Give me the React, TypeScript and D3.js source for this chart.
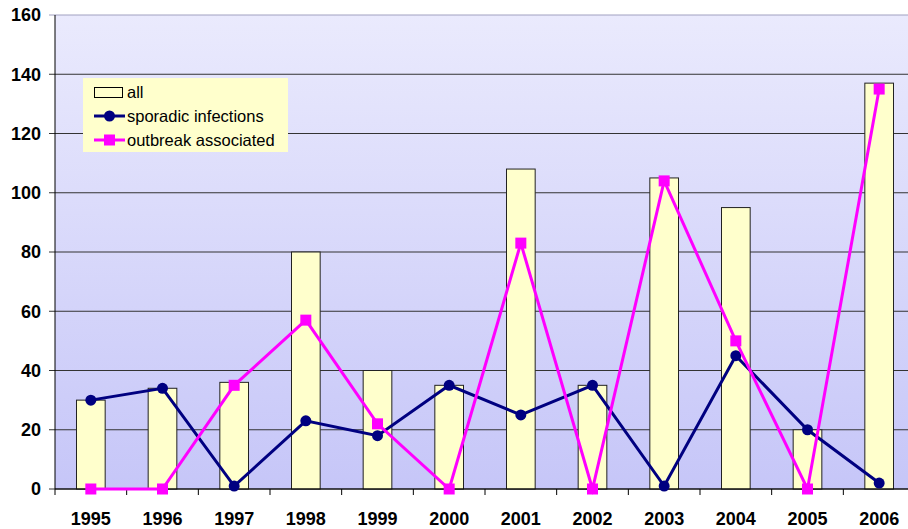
import * as React from 'react'
import * as d3 from 'd3'

const years = ['1995', '1996', '1997', '1998', '1999', '2000', '2001', '2002', '2003', '2004', '2005', '2006']
const allCases = [30, 34, 36, 80, 40, 35, 108, 35, 105, 95, 20, 137]
const sporadic = [30, 34, 1, 23, 18, 35, 25, 35, 1, 45, 20, 2]
const outbreak = [0, 0, 35, 57, 22, 0, 83, 0, 104, 50, 0, 135]
const yTicks = [0, 20, 40, 60, 80, 100, 120, 140, 160]

const W = 908
const H = 529
const m = { left: 55, right: -7, top: 15, bottom: 40 }

const App: React.FC = () => {
	const x = d3.scaleBand().domain(years).range([m.left, W - m.right]).padding(0)
	const y = d3.scaleLinear().domain([0, 160]).range([H - m.bottom, m.top])
	const bw = x.bandwidth() * 0.4
	const cx = (d: string) => x(d)! + x.bandwidth() / 2
	const line = d3.line<number>().x((_, i) => cx(years[i])).y(d => y(d))
	const font = '"Liberation Sans", Arial, sans-serif'

	return (
		<svg width={W} height={H} style={{ position: 'absolute', left: 0, top: 0 }} fontFamily={font}>
			<defs>
				<linearGradient id="bg" x1="0" y1="0" x2="0" y2="1">
					<stop offset="0" stopColor="#EAEAFD" />
					<stop offset="1" stopColor="#C6C6F8" />
				</linearGradient>
			</defs>
			<rect x={m.left} y={y(160)} width={W - m.left} height={y(0) - y(160)} fill="url(#bg)" />
			{yTicks.map(t => (
				<g key={t}>
					<line x1={m.left - 6} x2={W} y1={y(t)} y2={y(t)} stroke={t === 160 ? '#A0A0C0' : '#333'} strokeWidth={1} />
					<text x={41} y={y(t)} dy="0.35em" textAnchor="end" fontSize={18} fontWeight="bold">{t}</text>
				</g>
			))}
			{allCases.map((v, i) => (
				<rect key={i} x={cx(years[i]) - bw / 2} y={y(v)} width={bw} height={y(0) - y(v)}
					fill="#FFFFCC" stroke="#222" strokeWidth={1} />
			))}
			<line x1={m.left} x2={m.left} y1={y(160)} y2={y(0)} stroke="#000" />
			<line x1={m.left} x2={W} y1={y(0)} y2={y(0)} stroke="#000" />
			{years.map((yr, i) => (
				<g key={yr}>
					<line x1={x(yr)!} x2={x(yr)!} y1={y(0)} y2={y(0) + 6} stroke="#000" />
					<text x={cx(yr)} y={y(0) + 36} textAnchor="middle" fontSize={18} fontWeight="bold">{yr}</text>
				</g>
			))}
			<path d={line(sporadic)!} fill="none" stroke="#000080" strokeWidth={3} />
			{sporadic.map((v, i) => (
				<circle key={i} cx={cx(years[i])} cy={y(v)} r={5.5} fill="#000080" />
			))}
			<path d={line(outbreak)!} fill="none" stroke="#FF00FF" strokeWidth={3} />
			{outbreak.map((v, i) => (
				<rect key={i} x={cx(years[i]) - 5.5} y={y(v) - 5.5} width={11} height={11} fill="#FF00FF" />
			))}
			<g>
				<rect x={83} y={78} width={205} height={74} fill="#FFFFCC" />
				<rect x={94.5} y={87.5} width={28} height={10} fill="#FFFFCC" stroke="#000" />
				<text x={127} y={92} dy="0.35em" fontSize={16.5}>all</text>
				<line x1={94} x2={125} y1={116} y2={116} stroke="#000080" strokeWidth={3} />
				<circle cx={109.5} cy={116} r={5.5} fill="#000080" />
				<text x={127} y={116} dy="0.35em" fontSize={16.5}>sporadic infections</text>
				<line x1={94} x2={125} y1={140} y2={140} stroke="#FF00FF" strokeWidth={3} />
				<rect x={104} y={134.5} width={11} height={11} fill="#FF00FF" />
				<text x={127} y={140} dy="0.35em" fontSize={16.5}>outbreak associated</text>
			</g>
		</svg>
	)
}

export default App
